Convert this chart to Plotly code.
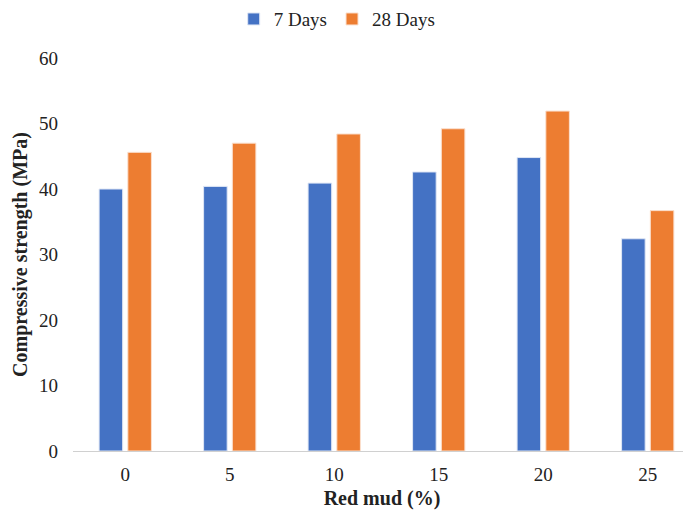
import plotly.graph_objects as go

categories = ["0", "5", "10", "15", "20", "25"]
days7 = [40.0, 40.4, 40.9, 42.6, 44.8, 32.4]
days28 = [45.6, 47.0, 48.4, 49.2, 51.9, 36.7]
y_ticks = [0, 10, 20, 30, 40, 50, 60]

font_family = "Liberation Serif, Times New Roman, serif"

fig = go.Figure()
fig.add_trace(go.Bar(x=categories, y=days7, name="7 Days",
                     marker=dict(color="#4472C4", line=dict(color="#dfe6f5", width=1))))
fig.add_trace(go.Bar(x=categories, y=days28, name="28 Days",
                     marker=dict(color="#ED7D31", line=dict(color="#fbe0cf", width=1))))

# page body adds an 8px offset, so the figure is sized/placed to compensate
fig.update_layout(
    width=683, height=505,
    margin=dict(l=65, r=0, t=50, b=62),
    paper_bgcolor="white", plot_bgcolor="white",
    barmode="group", bargap=0.45, bargroupgap=0.18,
    font=dict(family=font_family, size=19, color="#222"),
    legend=dict(orientation="h", x=0.482, xref="container", xanchor="center",
                y=0.978, yref="container", yanchor="middle",
                font=dict(size=19), itemwidth=30, traceorder="normal"),
    showlegend=True,
)
fig.update_xaxes(
    type="category", range=[-0.5, 5.414], automargin=False,
    showgrid=False, showline=True, linecolor="#d0d0d0", linewidth=1,
    ticks="", ticklabelstandoff=6,
    tickfont=dict(size=19),
    title=dict(text="<b>Red mud (%)</b>", font=dict(size=20), standoff=7),
)
fig.update_yaxes(
    range=[0, 60], tickvals=y_ticks, showgrid=False, zeroline=False,
    automargin=False, showline=False, ticks="", ticklabelstandoff=14,
    tickfont=dict(size=19),
    title=dict(text="<b>Compressive strength (MPa)</b>", font=dict(size=20), standoff=6),
)

fig.write_html("out.html")
